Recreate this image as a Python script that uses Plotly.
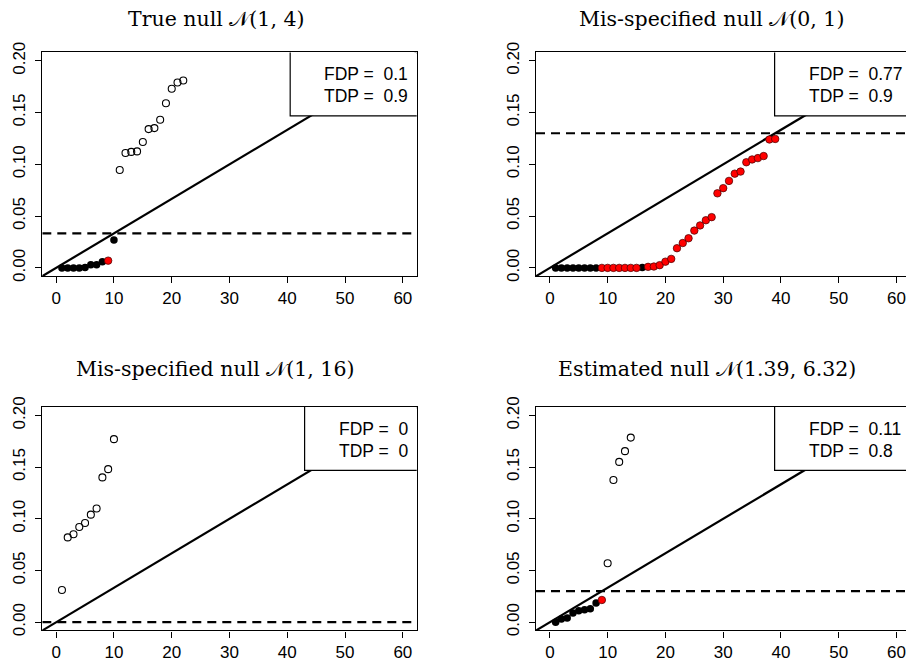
import plotly.graph_objects as go

# ---------------- data ----------------
ALPHA = 0.2
M = 60

titles = ["True null 𝒩(1, 4)", "Mis-specified null 𝒩(0, 1)",
          "Mis-specified null 𝒩(1, 16)", "Estimated null 𝒩(1.39, 6.32)"]
fdp_labels = ["0.1", "0.77", "0", "0.11"]
tdp_labels = ["0.9", "0.9", "0", "0.8"]
n_rejected = [10, 39, 0, 9]
x_ticks = [0, 10, 20, 30, 40, 50, 60]
y_ticks = [0, 0.05, 0.10, 0.15, 0.20]
y_ticktext = ["0.00", "0.05", "0.10", "0.15", "0.20"]

p_true_null = [0.0, 0.0, 0.0, 0.0, 0.0003, 0.003, 0.003, 0.006, 0.007, 0.027,
               0.0945, 0.111, 0.112, 0.1125, 0.1215, 0.134, 0.135, 0.143, 0.159,
               0.173, 0.179, 0.181]
false_true_null = [9]

p_mis_01 = [0.0, 0.0, 0.0, 0.0, 0.0, 0.0, 0.0, 0.0, 0.0, 0.0, 0.0, 0.0, 0.0,
            0.0, 0.0, 0.0003, 0.001, 0.0013, 0.0026, 0.006, 0.0087, 0.019, 0.024,
            0.0286, 0.036, 0.041, 0.046, 0.049, 0.072, 0.077, 0.084, 0.091,
            0.093, 0.102, 0.1047, 0.106, 0.108, 0.124, 0.1245]
false_mis_01 = [9, 10, 11, 12, 13, 14, 15, 17, 18, 19, 20, 21, 22, 23, 24, 25,
                26, 27, 28, 29, 30, 31, 32, 33, 34, 35, 36, 37, 38, 39]

p_mis_116 = [0.0312, 0.082, 0.085, 0.092, 0.096, 0.104, 0.110, 0.140, 0.148, 0.177]
false_mis_116 = []

p_est = [0.0, 0.003, 0.004, 0.009, 0.011, 0.012, 0.013, 0.0186, 0.0215, 0.057,
         0.1375, 0.155, 0.1654, 0.1785]
false_est = [9]

pvals = [p_true_null, p_mis_01, p_mis_116, p_est]
falses = [false_true_null, false_mis_01, false_mis_116, false_est]

# ---------------- layout geometry ----------------
W, H = 906, 662
PXU = 5.778  # pixels per x unit


def py(s):
    # screen-y (as photographed) -> page-y
    return (s - 10.1) / 0.9755


panels = [
    dict(x0=42.3, x1=416.7, y0=py(51.7), y1=py(276.0), tx=216, ty=8.5),
    dict(x0=536.0, x1=906.0, y0=py(51.7), y1=py(276.0), tx=711, ty=8.5),
    dict(x0=42.3, x1=416.7, y0=py(407.3), y1=py(631.3), tx=215, ty=py(369)),
    dict(x0=536.0, x1=906.0, y0=py(407.3), y1=py(631.3), tx=707, ty=py(369)),
]
box_left = [40.5, 38.9, 43.0, 38.9]
text_left = [46.0, 44.5, 48.6, 44.5]

TICKFONT = dict(family="Liberation Sans, Arial, sans-serif", size=17, color="black")

fig = go.Figure()
layout = dict(width=W, height=H, margin=dict(l=0, r=0, t=0, b=0),
              paper_bgcolor="white", plot_bgcolor="white", showlegend=False)
annotations = []
shapes = []

for i, pan in enumerate(panels):
    n = i + 1
    xs = "" if n == 1 else str(n)
    xname, yname = "x" + xs, "y" + xs
    xr = [-2.4, -2.4 + (pan["x1"] - pan["x0"]) / PXU]
    yr = [-0.008, 0.208]
    right_cut = pan["x1"] >= W
    layout["xaxis" + xs] = dict(
        domain=[pan["x0"] / W, pan["x1"] / W], range=xr, anchor=yname,
        tickvals=x_ticks, ticks="outside", ticklen=6,
        tickwidth=1, tickcolor="black", showline=True, linecolor="black",
        linewidth=1.2, mirror=True, showgrid=False, zeroline=False,
        tickfont=TICKFONT, ticklabelstandoff=0, ticklabeloverflow="allow")
    layout["yaxis" + xs] = dict(
        domain=[1 - pan["y1"] / H, 1 - pan["y0"] / H], range=yr, anchor=xname,
        tickvals=y_ticks, ticktext=y_ticktext,
        ticks="outside", ticklen=6, tickwidth=1, tickcolor="black",
        showline=True, linecolor="black", linewidth=1.2,
        mirror=(False if right_cut else True), showgrid=False, zeroline=False,
        tickfont=TICKFONT, tickangle=-90, ticklabelstandoff=3,
        ticklabeloverflow="allow")

    p = pvals[i]
    k = n_rejected[i]
    thr = k * ALPHA / M
    ranks = list(range(1, len(p) + 1))
    open_x = [r for r in ranks if r > k]
    open_y = [p[r - 1] for r in open_x]
    blk_x = [r for r in ranks if r <= k and r not in falses[i]]
    blk_y = [p[r - 1] for r in blk_x]
    red_x = [r for r in ranks if r <= k and r in falses[i]]
    red_y = [p[r - 1] for r in red_x]

    fig.add_trace(go.Scatter(x=xr, y=[ALPHA * v / M for v in xr], mode="lines",
                             line=dict(color="black", width=2.2),
                             xaxis=xname, yaxis=yname, hoverinfo="skip"))
    fig.add_trace(go.Scatter(x=xr, y=[thr, thr], mode="lines",
                             line=dict(color="black", width=2.2, dash="9px,6px"),
                             xaxis=xname, yaxis=yname, hoverinfo="skip"))
    fig.add_trace(go.Scatter(x=open_x, y=open_y, mode="markers",
                             marker=dict(symbol="circle-open", size=7, color="black",
                                         line=dict(width=1.1, color="black")),
                             xaxis=xname, yaxis=yname))
    fig.add_trace(go.Scatter(x=blk_x, y=blk_y, mode="markers",
                             marker=dict(symbol="circle", size=7.5, color="black"),
                             xaxis=xname, yaxis=yname))
    fig.add_trace(go.Scatter(x=red_x, y=red_y, mode="markers",
                             marker=dict(symbol="circle", size=7.5, color="#ff0000",
                                         line=dict(width=0.7, color="#400000")),
                             xaxis=xname, yaxis=yname))

    shapes.append(dict(type="rect", xref=xname, yref=yname, x0=box_left[i], x1=80,
                       y0=0.1468, y1=0.3, fillcolor="white",
                       line=dict(color="black", width=1.2), layer="above"))
    for txt, yy in (("FDP = \u00a0" + fdp_labels[i], 0.187),
                    ("TDP = \u00a0" + tdp_labels[i], 0.166)):
        annotations.append(dict(text=txt, xref=xname, yref=yname, x=text_left[i],
                                y=yy, xanchor="left", yanchor="middle",
                                showarrow=False,
                                font=dict(family="Liberation Sans, Arial, sans-serif",
                                          size=17.5, color="black")))
    annotations.append(dict(text=titles[i], xref="paper", yref="paper",
                            x=pan["tx"] / W, y=1 - pan["ty"] / H,
                            xanchor="center", yanchor="middle", showarrow=False,
                            font=dict(family="DejaVu Serif, Liberation Serif, serif",
                                      size=20.5, color="black")))

layout["annotations"] = annotations
layout["shapes"] = shapes
fig.update_layout(**layout)
fig.write_html(
    "out.html", config={"displayModeBar": False},
    post_script=("document.body.style.margin='0';"
                 "var d=document.getElementById('{plot_id}');"
                 "d.style.position='absolute';d.style.top='0px';d.style.left='0px';"))
